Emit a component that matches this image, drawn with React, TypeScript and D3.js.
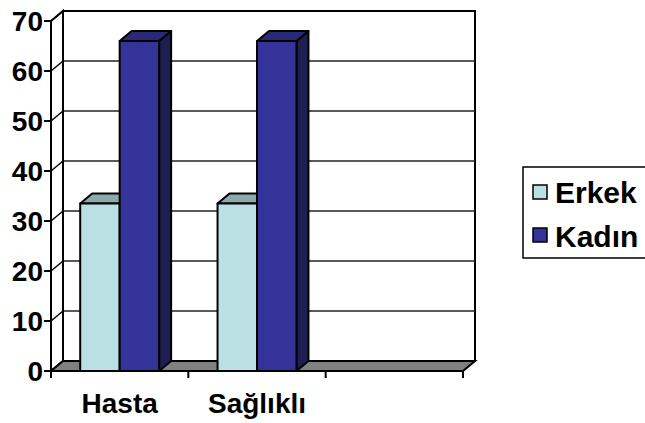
import * as d3 from 'd3';

const categories = ['Hasta', 'Sağlıklı', ''];
const seriesNames = ['Erkek', 'Kadın'];
const erkekValues = [33.5, 33.5];
const kadinValues = [66, 66];
const yTicks = [0, 10, 20, 30, 40, 50, 60, 70];

const colors = {
  Erkek: { front: '#BBE0E3', top: '#8EA9AB', side: '#6F8A8C' },
  Kadın: { front: '#333399', top: '#29297A', side: '#1E1E50' },
};

export default function App() {
  const width = 645;
  const height = 423;
  const left = 51;
  const right = 463;
  const floorY = 371;
  const dx = 12;
  const dy = -10;
  const font = '"Liberation Sans", Arial, sans-serif';

  const x0 = d3.scaleBand().domain(categories).range([left, right]);
  const x1 = d3.scaleBand().domain(seriesNames).range([0, x0.bandwidth()]).paddingOuter(0.74);
  const y = d3.scaleLinear().domain([0, 70]).range([floorY, 21]);

  const series = [
    { name: 'Erkek', values: erkekValues },
    { name: 'Kadın', values: kadinValues },
  ];

  const top = y(70);
  const pts = (p: number[][]) => p.map((q) => q.join(',')).join(' ');

  return (
    <svg width={width} height={height} style={{ position: 'absolute', left: 0, top: 0, background: '#fff' }}>
      {/* back wall */}
      <rect x={left + dx} y={top + dy} width={right - left} height={floorY - top} fill="#fff" stroke="#000" strokeWidth={2} />
      {/* gridlines on back wall */}
      {yTicks.slice(1, -1).map((t) => (
        <line key={t} x1={left + dx} x2={right + dx} y1={y(t) + dy} y2={y(t) + dy} stroke="#222" strokeWidth={1.5} />
      ))}
      {/* left wall */}
      <polygon points={pts([[left, top], [left + dx, top + dy], [left + dx, floorY + dy], [left, floorY]])} fill="#fff" stroke="#000" strokeWidth={2} />
      {yTicks.map((t) => (
        <line key={t} x1={left} y1={y(t)} x2={left + dx} y2={y(t) + dy} stroke="#000" strokeWidth={1.5} />
      ))}
      {/* floor */}
      <polygon points={pts([[left, floorY], [right, floorY], [right + dx, floorY + dy], [left + dx, floorY + dy]])} fill="#808080" stroke="#000" strokeWidth={2} />

      {/* bars */}
      {categories.map((c, i) =>
        series.map((s) => {
          const v = s.values[i];
          if (v === undefined) return null;
          const bx = (x0(c) ?? 0) + (x1(s.name) ?? 0);
          const bw = x1.bandwidth();
          const by = y(v);
          const col = colors[s.name as 'Erkek' | 'Kadın'];
          return (
            <g key={c + s.name} stroke="#000" strokeWidth={2} strokeLinejoin="round">
              <polygon points={pts([[bx + bw, by], [bx + bw + dx, by + dy], [bx + bw + dx, floorY + dy], [bx + bw, floorY]])} fill={col.side} />
              <polygon points={pts([[bx, by], [bx + dx, by + dy], [bx + bw + dx, by + dy], [bx + bw, by]])} fill={col.top} />
              <rect x={bx} y={by} width={bw} height={floorY - by} fill={col.front} />
            </g>
          );
        })
      )}

      {/* y axis */}
      <line x1={left} x2={left} y1={top} y2={floorY} stroke="#000" strokeWidth={2} />
      {yTicks.map((t) => (
        <g key={t}>
          <line x1={left - 7} x2={left} y1={y(t)} y2={y(t)} stroke="#000" strokeWidth={2} />
          <text x={left - 8} y={y(t)} dy="0.36em" textAnchor="end" fontFamily={font} fontWeight="bold" fontSize={28}>{t}</text>
        </g>
      ))}

      {/* x axis */}
      <line x1={left} x2={right} y1={floorY} y2={floorY} stroke="#000" strokeWidth={2} />
      {[...categories.map((c) => x0(c) ?? 0), right].map((tx, i) => (
        <line key={i} x1={tx} x2={tx} y1={floorY} y2={floorY + 7} stroke="#000" strokeWidth={2} />
      ))}
      {categories.map((c) => (
        <text key={c} x={(x0(c) ?? 0) + x0.bandwidth() / 2} y={413} textAnchor="middle" fontFamily={font} fontWeight="bold" fontSize={28}>{c}</text>
      ))}

      {/* legend */}
      <rect x={523} y={167} width={140} height={91} fill="#fff" stroke="#000" strokeWidth={1.5} />
      {series.map((s, i) => (
        <g key={s.name}>
          <rect x={533} y={185} width={14} height={14} transform={`translate(0,${i * 43})`} fill={colors[s.name as 'Erkek' | 'Kadın'].front} stroke="#000" strokeWidth={1.5} />
          <text x={555} y={203 + i * 44} fontFamily={font} fontWeight="bold" fontSize={30}>{s.name}</text>
        </g>
      ))}
    </svg>
  );
}
